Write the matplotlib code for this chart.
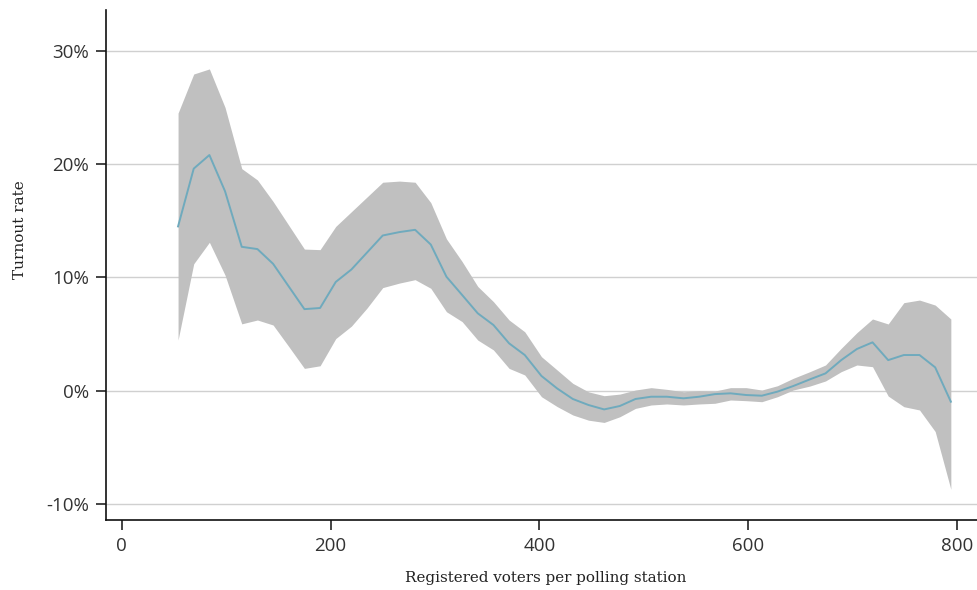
import matplotlib
matplotlib.use("Agg")
import matplotlib.pyplot as plt

# Registered voters per polling station (bin centres)
voters = [54, 69, 84, 99, 115, 130, 145, 160, 175, 190,
          205, 220, 235, 250, 266, 281, 296, 311, 326, 341,
          356, 371, 386, 402, 417, 432, 447, 462, 477, 492,
          507, 522, 538, 553, 568, 583, 598, 613, 628, 643,
          659, 674, 689, 704, 719, 734, 749, 764, 779, 794]

# Turnout rate (%) estimate
turnout = [14.5, 19.6, 20.8, 17.6, 12.7, 12.5, 11.2, 9.2, 7.2, 7.3,
           9.6, 10.7, 12.2, 13.7, 14.0, 14.2, 12.9, 10.06, 8.45, 6.83,
           5.8, 4.18, 3.15, 1.3, 0.2, -0.73, -1.26, -1.65, -1.35, -0.73,
           -0.53, -0.53, -0.67, -0.53, -0.3, -0.23, -0.38, -0.44, -0.08, 0.41,
           1.0, 1.53, 2.7, 3.68, 4.27, 2.7, 3.15, 3.15, 2.06, -0.97]

# Upper confidence bound (%)
upper = [24.5, 27.95, 28.4, 25.0, 19.6, 18.6, 16.7, 14.6, 12.5, 12.45,
         14.5, 15.8, 17.1, 18.4, 18.5, 18.4, 16.6, 13.4, 11.4, 9.2,
         7.86, 6.24, 5.2, 3.0, 1.83, 0.65, -0.1, -0.44, -0.3, 0.06,
         0.27, 0.12, -0.09, 0.0, -0.03, 0.27, 0.27, 0.06, 0.44, 1.09,
         1.68, 2.27, 3.74, 5.12, 6.33, 5.89, 7.77, 8.0, 7.56, 6.33]

# Lower confidence bound (%)
lower = [4.47, 11.2, 13.1, 10.2, 5.9, 6.24, 5.8, 3.9, 1.97, 2.2,
         4.6, 5.7, 7.3, 9.1, 9.5, 9.8, 9.04, 6.97, 6.1, 4.47,
         3.6, 1.97, 1.39, -0.53, -1.4, -2.14, -2.6, -2.8, -2.3, -1.56,
         -1.26, -1.17, -1.26, -1.17, -1.11, -0.82, -0.88, -0.97, -0.53, 0.06,
         0.41, 0.86, 1.68, 2.27, 2.12, -0.47, -1.41, -1.7, -3.6, -8.7]

x_ticks = [0, 200, 400, 600, 800]
x_tick_labels = ["0", "200", "400", "600", "800"]
y_ticks = [-10, 0, 10, 20, 30]
y_tick_labels = ["-10%", "0%", "10%", "20%", "30%"]

fig = plt.figure(figsize=(9.78, 5.9), dpi=100)
ax = fig.add_axes([106 / 978, 1 - 520 / 590, 1 - 106 / 978, (520 - 10) / 590])

ax.fill_between(voters, lower, upper, color="#c0c0c0", linewidth=0, zorder=2)
ax.plot(voters, turnout, color="#6faabd", linewidth=1.4, zorder=3)

ax.set_xlim(-15, 820)
ax.set_ylim(-11.41, 33.6)

ax.set_yticks(y_ticks)
ax.set_yticklabels(y_tick_labels)
ax.set_xticks(x_ticks)
ax.set_xticklabels(x_tick_labels)

ax.grid(axis="y", color="#d0d0d0", linewidth=1.0, zorder=0)
ax.set_axisbelow(True)

for s in ["top", "right"]:
    ax.spines[s].set_visible(False)
for s in ["left", "bottom"]:
    ax.spines[s].set_color("#111111")
    ax.spines[s].set_linewidth(1.2)

ax.tick_params(axis="both", direction="out", length=7, width=1.1,
               color="#111111", labelcolor="#333333", labelsize=13.5, pad=5)
for lab in ax.get_xticklabels() + ax.get_yticklabels():
    lab.set_family("Open Sans")

fig.text(546 / 978, 1 - 578 / 590, "Registered voters per polling station",
         ha="center", va="center", family="DejaVu Serif", fontsize=10.9,
         color="#222222")
fig.text(20 / 978, 1 - 230 / 590, "Turnout rate", rotation=90,
         ha="center", va="center", family="DejaVu Serif", fontsize=11,
         color="#222222")

fig.savefig("out.png", dpi=100)
